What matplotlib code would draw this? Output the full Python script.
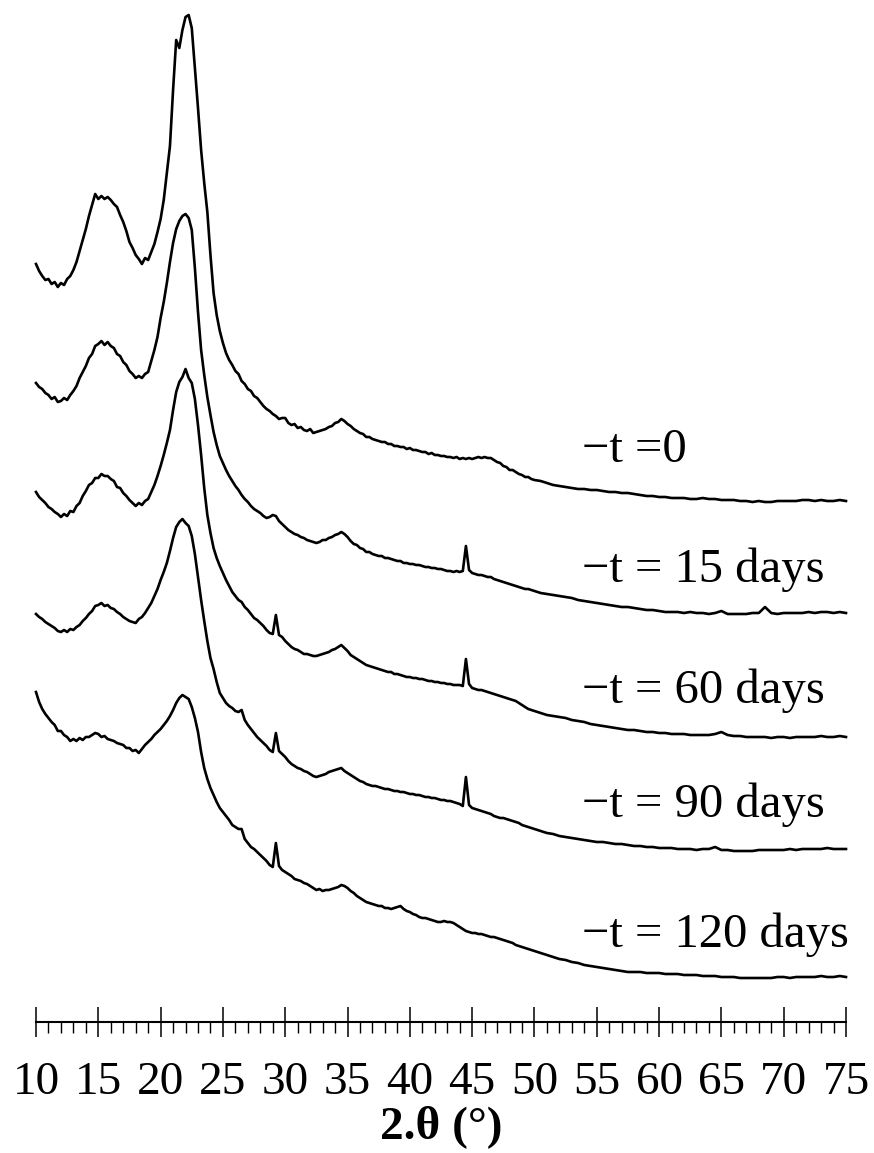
import numpy as np
import matplotlib
matplotlib.use("Agg")
import matplotlib.pyplot as plt
from matplotlib.ticker import MultipleLocator

plt.rcParams['font.family'] = ['Liberation Serif', 'DejaVu Serif']

# 2-theta sampling grid (deg): 0.25 deg steps up to 49.75, then 0.5 deg steps to 75
two_theta = np.concatenate([10 + 0.25 * np.arange(160), 50 + 0.5 * np.arange(51)])

# Intensities (a.u.), each relative to its own baseline
i_0d = [241, 234, 229, 225, 226, 221, 223, 218, 222, 220,
        226, 229, 235, 243, 254, 265, 276, 289, 300, 311,
        306, 309, 306, 308, 305, 301, 298, 290, 283, 274,
        263, 257, 250, 246, 241, 247, 245, 253, 261, 273,
        286, 305, 332, 359, 415, 465, 457, 475, 488, 490,
        477, 437, 397, 355, 322, 293, 250, 212, 190, 174,
        162, 152, 145, 140, 134, 131, 124, 121, 116, 114,
        109, 107, 103, 99, 96, 94, 91, 89, 86, 87,
        87, 82, 80, 81, 77, 78, 75, 74, 76, 72,
        73, 74, 75, 76, 78, 79, 82, 83, 86, 84,
        81, 79, 76, 74, 72, 71, 68, 68, 66, 65,
        64, 63, 63, 61, 61, 59, 59, 58, 58, 56,
        57, 55, 55, 54, 53, 53, 51, 52, 50, 50,
        49, 49, 48, 48, 47, 48, 46, 47, 46, 47,
        46, 47, 48, 47, 48, 47, 47, 45, 43, 42,
        39, 38, 35, 35, 33, 31, 30, 28, 28, 26,
        25, 24, 22, 20, 19, 18, 17, 16, 16, 15,
        15, 14, 13, 13, 12, 12, 11, 10, 9, 9,
        8, 8, 7, 7, 7, 6, 6, 7, 6, 6,
        5, 5, 5, 4, 4, 3, 4, 3, 3, 4,
        4, 4, 4, 5, 5, 4, 5, 4, 4, 5,
        4]

i_15d = [232, 228, 226, 222, 220, 216, 218, 213, 214, 217,
         215, 220, 224, 229, 237, 243, 249, 257, 261, 269,
         271, 274, 270, 273, 269, 267, 261, 259, 253, 250,
         244, 241, 237, 239, 237, 241, 243, 254, 265, 278,
         297, 313, 332, 353, 372, 386, 394, 399, 401, 397,
         385, 347, 303, 265, 240, 218, 200, 183, 170, 159,
         152, 145, 139, 134, 129, 125, 120, 116, 113, 109,
         106, 104, 102, 99, 97, 98, 100, 99, 94, 91,
         88, 85, 83, 81, 80, 78, 77, 75, 74, 73,
         72, 73, 75, 75, 77, 78, 80, 81, 83, 81,
         78, 74, 71, 70, 67, 66, 63, 63, 61, 60,
         59, 59, 57, 57, 56, 55, 54, 54, 52, 52,
         51, 51, 50, 50, 49, 48, 48, 47, 47, 46,
         46, 45, 44, 44, 43, 44, 43, 44, 69, 45,
         42, 41, 40, 40, 39, 38, 38, 36, 35, 34,
         33, 32, 31, 30, 29, 28, 27, 26, 26, 25,
         24, 22, 21, 20, 19, 18, 17, 15, 14, 13,
         12, 11, 10, 9, 8, 8, 7, 6, 5, 5,
         4, 3, 3, 3, 2, 3, 2, 2, 1, 2,
         4, 1, 1, 1, 1, 2, 2, 8, 2, 1,
         2, 2, 2, 2, 3, 2, 3, 3, 2, 3,
         2]

i_60d = [248, 243, 240, 237, 233, 231, 228, 226, 223, 226,
         224, 229, 228, 234, 237, 244, 249, 255, 257, 262,
         262, 266, 264, 264, 261, 259, 253, 252, 247, 244,
         240, 237, 234, 237, 235, 239, 241, 248, 255, 264,
         274, 285, 297, 310, 330, 348, 358, 363, 371, 362,
         357, 341, 315, 285, 252, 225, 207, 192, 182, 174,
         167, 160, 154, 148, 144, 140, 138, 133, 130, 126,
         122, 120, 117, 114, 110, 107, 106, 125, 105, 103,
         99, 96, 93, 91, 90, 88, 86, 86, 85, 84,
         84, 85, 86, 87, 88, 90, 91, 93, 95, 92,
         89, 85, 83, 81, 79, 77, 75, 74, 73, 72,
         71, 70, 69, 68, 68, 66, 66, 65, 64, 63,
         63, 62, 62, 61, 61, 60, 59, 59, 58, 58,
         57, 57, 56, 56, 55, 55, 55, 54, 81, 56,
         52, 51, 50, 50, 49, 48, 47, 46, 45, 44,
         43, 42, 41, 40, 39, 37, 35, 33, 31, 30,
         29, 27, 25, 24, 23, 22, 20, 19, 18, 16,
         15, 14, 13, 12, 11, 10, 10, 9, 8, 8,
         7, 7, 6, 6, 6, 5, 5, 5, 5, 6,
         8, 5, 4, 4, 3, 3, 3, 3, 2, 3,
         3, 2, 3, 3, 3, 3, 4, 3, 3, 4,
         3]

i_90d = [241, 238, 236, 233, 231, 229, 227, 224, 223, 225,
         223, 226, 225, 228, 230, 234, 237, 241, 244, 249,
         250, 252, 249, 250, 247, 246, 243, 241, 238, 236,
         234, 233, 232, 236, 238, 242, 247, 252, 259, 266,
         275, 283, 292, 304, 317, 328, 333, 336, 332, 329,
         319, 301, 278, 255, 234, 214, 197, 186, 173, 162,
         157, 152, 149, 147, 144, 143, 145, 135, 130, 126,
         122, 118, 115, 112, 109, 105, 103, 122, 104, 101,
         98, 94, 91, 89, 87, 86, 84, 83, 81, 79,
         78, 79, 80, 81, 83, 84, 85, 86, 87, 84,
         82, 80, 78, 76, 74, 73, 71, 70, 69, 69,
         68, 67, 66, 66, 65, 64, 64, 63, 63, 62,
         61, 61, 60, 60, 59, 58, 58, 57, 57, 56,
         55, 55, 54, 54, 53, 52, 51, 49, 78, 50,
         47, 46, 45, 44, 43, 42, 41, 39, 38, 37,
         37, 36, 35, 34, 33, 32, 30, 29, 28, 27,
         26, 24, 22, 21, 19, 18, 17, 16, 15, 14,
         13, 13, 12, 11, 11, 10, 9, 9, 8, 8,
         7, 7, 7, 6, 6, 6, 5, 6, 6, 8,
         5, 5, 4, 4, 4, 4, 5, 5, 5, 5,
         5, 6, 5, 6, 6, 6, 6, 7, 6, 6,
         6]

i_120d = [288, 278, 271, 266, 262, 258, 255, 249, 249, 245,
          243, 239, 241, 239, 242, 240, 243, 243, 245, 247,
          246, 243, 244, 241, 240, 239, 237, 236, 235, 232,
          232, 229, 230, 227, 231, 235, 238, 241, 245, 248,
          251, 255, 259, 264, 270, 277, 282, 285, 283, 281,
          273, 262, 248, 228, 212, 201, 192, 185, 178, 172,
          168, 164, 160, 155, 153, 151, 151, 141, 137, 133,
          131, 128, 125, 122, 119, 115, 113, 137, 114, 110,
          108, 106, 104, 101, 100, 99, 97, 96, 94, 92,
          90, 91, 89, 90, 90, 91, 92, 93, 95, 94,
          92, 89, 87, 84, 82, 80, 78, 77, 76, 75,
          74, 74, 72, 72, 71, 72, 73, 74, 71, 69,
          68, 66, 65, 63, 62, 62, 61, 60, 59, 58,
          58, 59, 58, 58, 57, 55, 53, 51, 49, 48,
          47, 47, 46, 46, 45, 44, 43, 43, 42, 41,
          40, 39, 38, 37, 35, 34, 33, 32, 31, 30,
          29, 27, 25, 23, 21, 20, 18, 17, 15, 14,
          13, 12, 11, 10, 9, 8, 8, 8, 7, 7,
          7, 6, 6, 6, 5, 5, 5, 4, 4, 4,
          3, 3, 3, 2, 2, 2, 2, 2, 2, 3,
          3, 2, 3, 3, 3, 3, 4, 3, 3, 4,
          3]

series = [i_0d, i_15d, i_60d, i_90d, i_120d]
labels = ["\u2212t =0", "\u2212t = 15 days", "\u2212t = 60 days",
          "\u2212t = 90 days", "\u2212t = 120 days"]
offsets = [495, 385, 260, 145, 20]      # vertical stacking offsets (a.u.)
label_dy = [43, 33, 37, 38, 33]         # label baseline above each offset
label_x = 53.8

W, H = 874, 1153
fig = plt.figure(figsize=(W / 100, H / 100), dpi=100)
ax = fig.add_axes([36 / W, (H - 1022) / H, 810 / W, 1022 / H])

for vals, off in zip(series, offsets):
    ax.plot(two_theta, np.asarray(vals, dtype=float) + off,
            color='black', lw=1.9, clip_on=False)

for lab, off, dy in zip(labels, offsets, label_dy):
    ax.text(label_x, off + dy, lab, fontsize=35, ha='left', va='baseline',
            color='black')

ax.set_xlim(10, 75)
ax.set_ylim(-22, 1000)
for s in ('left', 'right', 'top'):
    ax.spines[s].set_visible(False)
ax.spines['bottom'].set_linewidth(1.5)
ax.set_yticks([])
ax.xaxis.set_major_locator(MultipleLocator(5))
ax.xaxis.set_minor_locator(MultipleLocator(1))
ax.tick_params(axis='x', which='major', direction='inout', length=22,
               width=1.1, pad=17.5, labelsize=34)
ax.tick_params(axis='x', which='minor', direction='out', length=8, width=1.0)
ax.patch.set_visible(False)

fig.text(441 / W, (H - 1127) / H, "2.\u03b8 (\u00b0)", ha='center', va='center',
         fontsize=34, fontweight='bold')

fig.savefig('out.png', dpi=100)
